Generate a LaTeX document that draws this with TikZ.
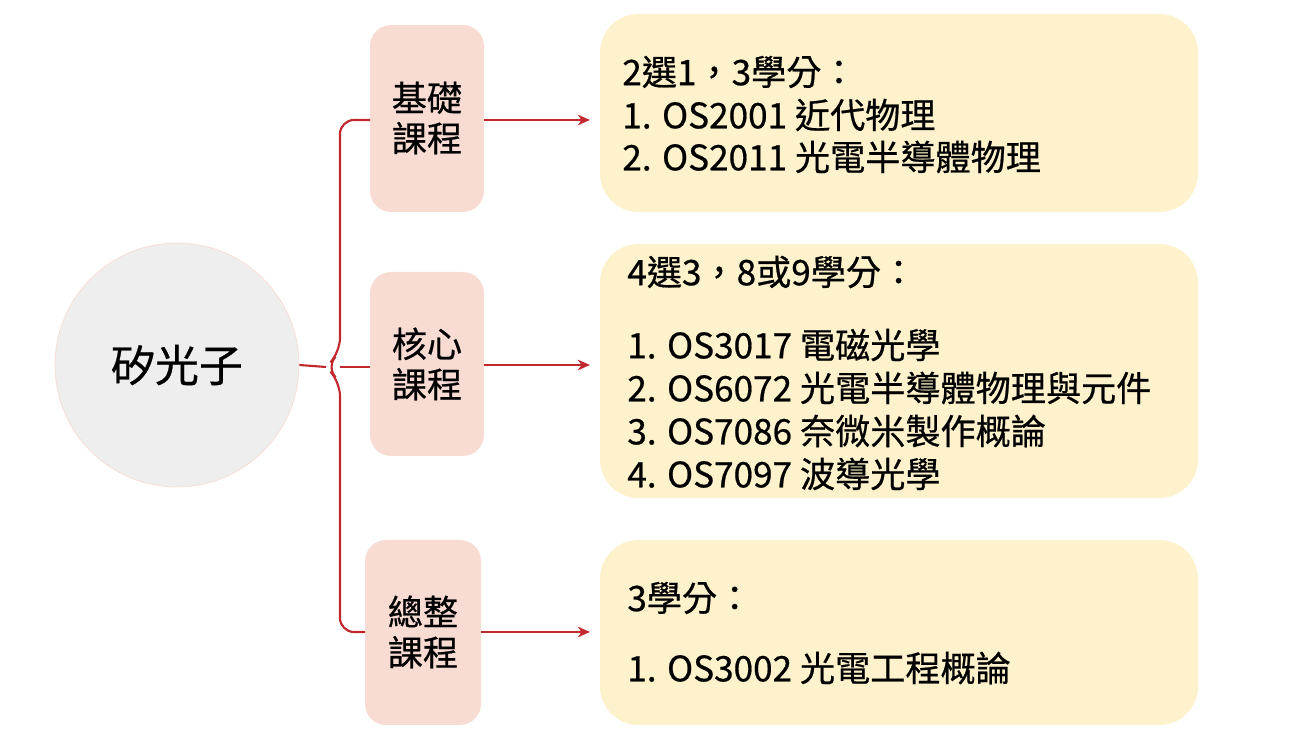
\documentclass[tikz,border=0pt]{standalone}
\usepackage{fontspec}
\setmainfont{Noto Sans CJK TC}[FakeBold=0.6]
\usetikzlibrary{arrows.meta}
\definecolor{lred}{HTML}{C0282D}
\definecolor{pinkf}{HTML}{F8DCD3}
\definecolor{yelf}{HTML}{FEF2CC}
\definecolor{grayf}{HTML}{EEEEEE}
\begin{document}
\begin{tikzpicture}[x=0.02cm,y=-0.02cm,
  catbox/.style={fill=pinkf,rounded corners=12pt,inner sep=0pt},
  infobox/.style={fill=yelf,rounded corners=22pt,inner sep=0pt},
  lbl/.style={font=\fontsize{20}{23}\selectfont,align=center},
  itm/.style={font=\fontsize{20}{24}\selectfont,anchor=west,inner sep=0pt},
  conn/.style={draw=lred,line width=1.2pt},
  arr/.style={conn,-{Stealth[length=7pt,width=6pt]}}]
\useasboundingbox (0,0) rectangle (1303,739);
\node[circle,fill=grayf,draw=pinkf,minimum size=4.88cm,font=\fontsize{25}{30}\selectfont] (c) at (177,365) {矽光子};
% category boxes
\path[catbox] (370,25) rectangle (484,212);
\path[catbox] (370,272) rectangle (484,456);
\path[catbox] (365,540) rectangle (481,725);
\node[lbl] (k1) at (427,118) {基礎\\課程};
\node[lbl] (k2) at (427,364) {核心\\課程};
\node[lbl] (k3) at (423,632) {總整\\課程};
\coordinate (k1l) at (370,120); \coordinate (k1r) at (484,120);
\coordinate (k2l) at (370,367); \coordinate (k2r) at (484,365);
\coordinate (k3l) at (365,632); \coordinate (k3r) at (481,632);
% info boxes
\path[infobox] (600,14) rectangle (1198,212);
\path[infobox] (600,244) rectangle (1198,498);
\path[infobox] (600,540) rectangle (1198,725);
\coordinate (i1) at (590,120); \coordinate (i2) at (590,365); \coordinate (i3) at (590,632);
% brace
\coordinate (cr) at (c.east);
\draw[conn,rounded corners=8pt] (k1l) -- (340,120) -- (340,352) -- (326,367) -- (340,382) -- (340,632) -- (k3l);
\draw[conn] (cr) -- (326,367);
\draw[conn] (340,367) -- (k2l);
\draw[arr] (k1r) -- (i1);
\draw[arr] (k2r) -- (i2);
\draw[arr] (k3r) -- (i3);
% texts
\node[itm] (t1a) at (622,72) {2選1，3學分：};
\node[itm] (t1b) at (622,115) {1. OS2001 近代物理};
\node[itm] (t1c) at (622,157) {2. OS2011 光電半導體物理};
\node[itm] (t2a) at (627,272) {4選3，8或9學分：};
\node[itm] (t2b) at (627,345) {1. OS3017 電磁光學};
\node[itm] (t2c) at (627,388) {2. OS6072 光電半導體物理與元件};
\node[itm] (t2d) at (627,431) {3. OS7086 奈微米製作概論};
\node[itm] (t2e) at (627,474) {4. OS7097 波導光學};
\node[itm] (t3a) at (627,598) {3學分：};
\node[itm] (t3b) at (627,668) {1. OS3002 光電工程概論};
\end{tikzpicture}
\end{document}
